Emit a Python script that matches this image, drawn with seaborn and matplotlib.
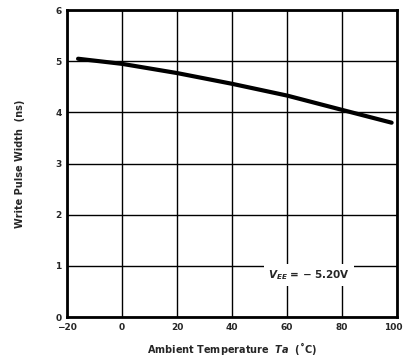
import matplotlib
matplotlib.use("Agg")
import matplotlib.pyplot as plt
import matplotlib.transforms as mtransforms
import seaborn as sns
import pandas as pd

temps = [-16, 0, 20, 40, 60, 80, 98]
pulse_width = [5.05, 4.95, 4.77, 4.56, 4.33, 4.05, 3.80]
xticks = [-20, 0, 20, 40, 60, 80, 100]
yticks = [0, 1, 2, 3, 4, 5, 6]

sns.set_style("white")
plt.rcParams['font.family'] = ['DejaVu Sans']

df = pd.DataFrame({"T": temps, "W": pulse_width})

fig = plt.figure(figsize=(4.04, 3.62), dpi=100)
ax = fig.add_axes([0.166, 0.124, 0.817, 0.848])
for xv in xticks:
    ax.axvline(xv, color="black", lw=1.0, zorder=1)
for yv in yticks:
    ax.axhline(yv, color="black", lw=1.0, zorder=1)
sns.lineplot(data=df, x="T", y="W", ax=ax, color="black", lw=3, zorder=3)
ax.set_xlim(-20, 100)
ax.set_ylim(0, 6)
ax.set_xticks(xticks)
ax.set_xticklabels(["\u221220", "0", "20", "40", "60", "80", "100"], fontsize=6.5, fontweight="bold")
ax.set_yticks(yticks)
ax.set_yticklabels([str(v) for v in yticks], fontsize=6.5, fontweight="bold")
ax.tick_params(length=0, pad=4)
last = ax.get_xticklabels()[-1]
last.set_transform(last.get_transform() + mtransforms.ScaledTranslation(-4/100, 0, fig.dpi_scale_trans))
for s in ax.spines.values():
    s.set_linewidth(2)
    s.set_color("black")
ax.set_xlabel("Ambient Temperature  $\\mathbfit{T}$$\\mathbfit{a}$  (\u02daC)", fontsize=7, fontweight="bold", labelpad=6)
ax.set_ylabel("Write Pulse Width  (ns)", fontsize=7, fontweight="bold", labelpad=22)
ax.text(68, 0.82, "$\\mathbfit{V_{EE}}$ = \u2212 5.20V", fontsize=7.5, fontweight="bold", ha="center", va="center",
        bbox=dict(facecolor="white", edgecolor="none", pad=3), zorder=4)
fig.savefig("out.png", dpi=100)
